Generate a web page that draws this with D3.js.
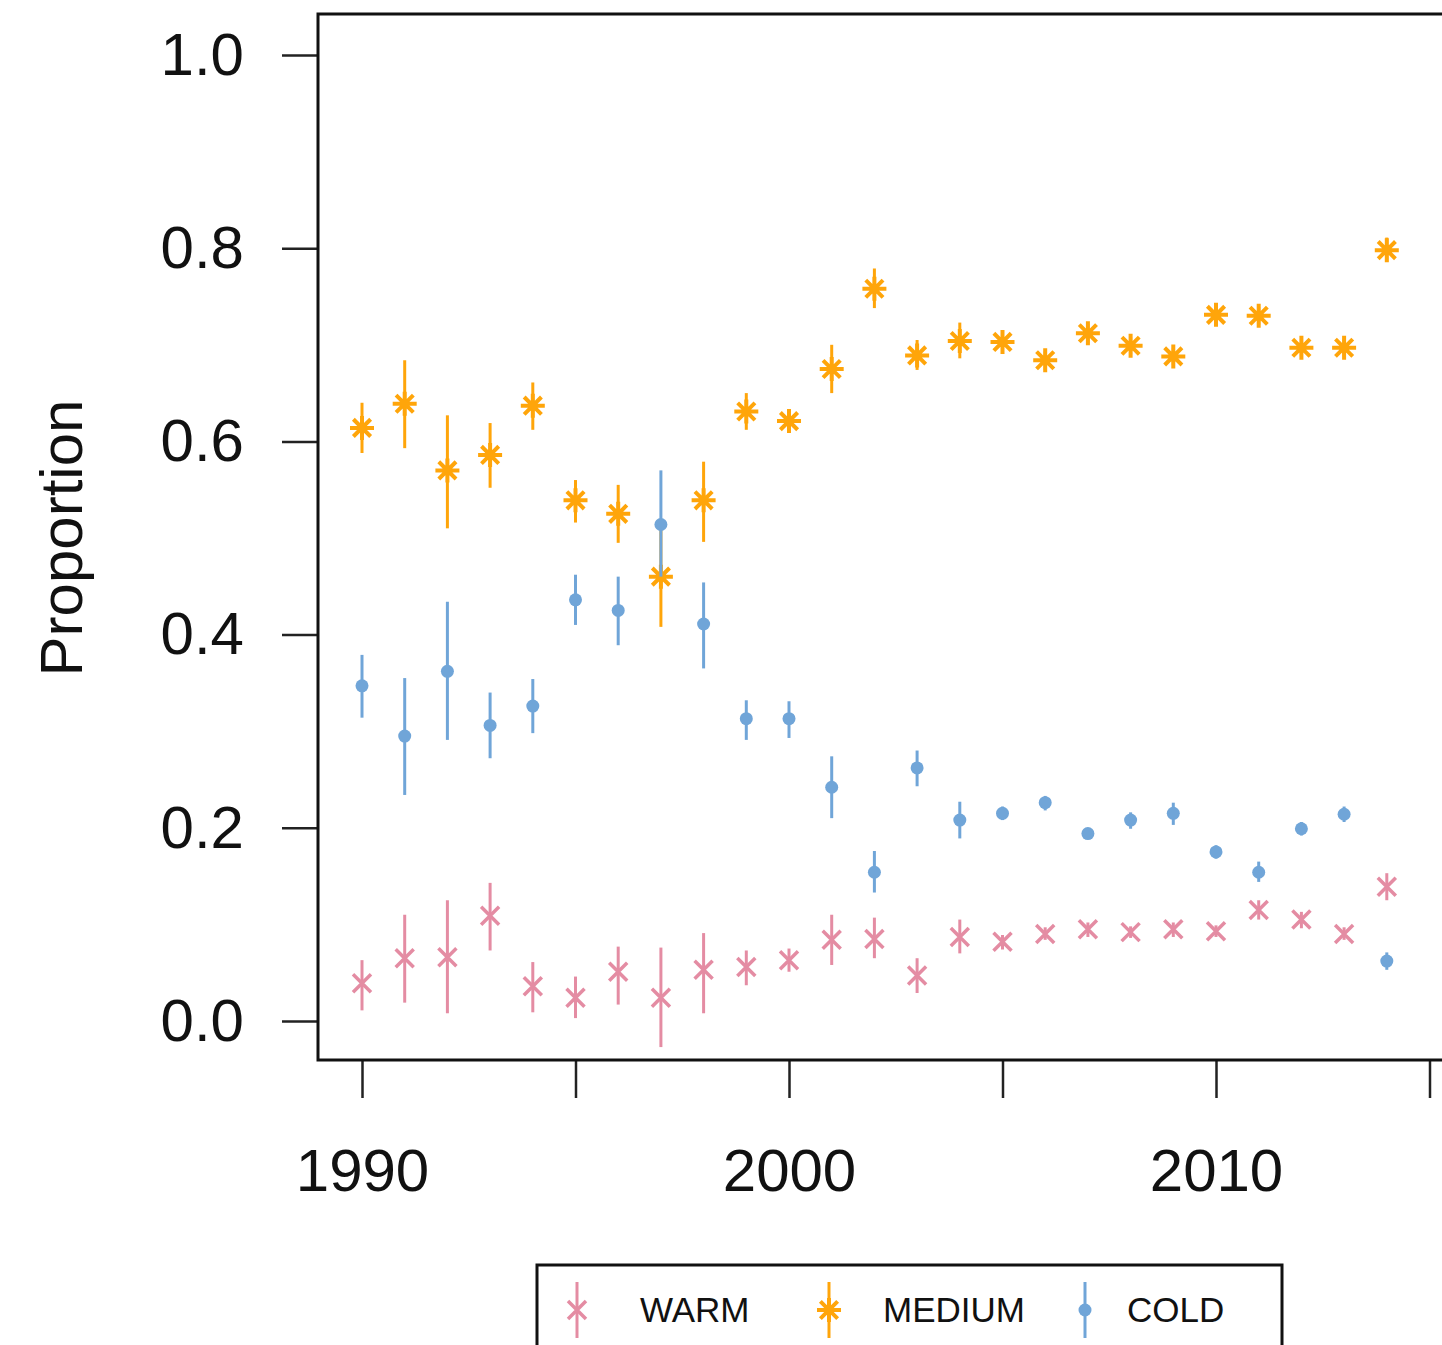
<!DOCTYPE html>
<html>
<head>
<meta charset="utf-8">
<script src="https://cdn.jsdelivr.net/npm/d3@7"></script>
<style>
  body { margin: 0; background: #fff; }
  text { font-family: "Liberation Sans", Arial, sans-serif; fill: #111; }
</style>
</head>
<body>
<div id="chart"></div>
<script>
const years = d3.range(1990, 2015);

// WARM
const warmMid = [0.039, 0.065, 0.066, 0.109, 0.036, 0.024, 0.051, 0.024, 0.053, 0.056, 0.063, 0.084, 0.085, 0.047, 0.087, 0.082, 0.090, 0.095, 0.092, 0.095, 0.093, 0.115, 0.105, 0.090, 0.139];
const warmLo  = [0.011, 0.019, 0.008, 0.073, 0.009, 0.003, 0.017, -0.027, 0.008, 0.037, 0.051, 0.058, 0.065, 0.029, 0.070, 0.074, 0.084, 0.087, 0.086, 0.087, 0.087, 0.105, 0.096, 0.084, 0.125];
const warmHi  = [0.063, 0.110, 0.125, 0.143, 0.061, 0.046, 0.077, 0.076, 0.091, 0.073, 0.075, 0.110, 0.107, 0.065, 0.105, 0.089, 0.097, 0.102, 0.098, 0.102, 0.099, 0.125, 0.113, 0.097, 0.153];

// MEDIUM
const medMid = [0.614, 0.639, 0.570, 0.586, 0.637, 0.539, 0.525, 0.460, 0.539, 0.631, 0.621, 0.675, 0.758, 0.689, 0.704, 0.703, 0.684, 0.712, 0.699, 0.688, 0.731, 0.730, 0.697, 0.697, 0.798];
const medLo  = [0.588, 0.593, 0.510, 0.552, 0.612, 0.516, 0.495, 0.408, 0.496, 0.612, 0.610, 0.650, 0.738, 0.674, 0.686, 0.695, 0.674, 0.701, 0.690, 0.679, 0.721, 0.721, 0.688, 0.688, 0.786];
const medHi  = [0.640, 0.684, 0.627, 0.619, 0.661, 0.560, 0.555, 0.512, 0.579, 0.650, 0.632, 0.700, 0.779, 0.705, 0.723, 0.712, 0.693, 0.722, 0.708, 0.697, 0.740, 0.739, 0.706, 0.706, 0.811];

// COLD
const coldMid = [0.347, 0.295, 0.362, 0.306, 0.326, 0.436, 0.425, 0.514, 0.411, 0.313, 0.313, 0.242, 0.154, 0.262, 0.208, 0.215, 0.226, 0.194, 0.208, 0.215, 0.175, 0.154, 0.199, 0.214, 0.062];
const coldLo  = [0.314, 0.234, 0.291, 0.272, 0.298, 0.410, 0.389, 0.460, 0.365, 0.291, 0.293, 0.210, 0.133, 0.243, 0.189, 0.208, 0.218, 0.189, 0.199, 0.203, 0.168, 0.144, 0.192, 0.206, 0.053];
const coldHi  = [0.379, 0.355, 0.434, 0.340, 0.354, 0.462, 0.460, 0.570, 0.454, 0.332, 0.331, 0.274, 0.176, 0.280, 0.227, 0.222, 0.233, 0.198, 0.216, 0.226, 0.182, 0.165, 0.206, 0.222, 0.071];

const yTicks = [0, 0.2, 0.4, 0.6, 0.8, 1.0];
const xTicks = [1990, 1995, 2000, 2005, 2010, 2015];
const xLabels = [1990, 2000, 2010];
const seriesNames = ['WARM', 'MEDIUM', 'COLD'];
const colors = { WARM: '#e48ca3', MEDIUM: '#ffa50a', COLD: '#70a5d8' };

const width = 1442;
const height = 1345;

const svg = d3.select('#chart')
  .append('svg')
  .attr('width', width)
  .attr('height', height);

const x = d3.scaleLinear()
  .domain([1990, 2010])
  .range([362, 1216]);

const y = d3.scaleLinear()
  .domain([0, 1])
  .range([1021, 55]);

const box = { left: 318, top: 14, right: 1460, bottom: 1060 };

// y axis
const yAxis = svg.append('g')
  .attr('transform', `translate(${box.left},0)`)
  .call(d3.axisLeft(y).tickValues(yTicks).tickFormat(d3.format('.1f')).tickSize(36).tickPadding(38));
yAxis.select('.domain').remove();
yAxis.selectAll('line').attr('stroke', '#222').attr('stroke-width', 2.5);
yAxis.selectAll('text').attr('font-size', 60).attr('font-family', '"Liberation Sans", Arial, sans-serif').attr('fill', '#111');

// x axis
const xAxis = svg.append('g')
  .attr('transform', `translate(0,${box.bottom})`)
  .call(d3.axisBottom(x).tickValues(xTicks).tickFormat(d => xLabels.includes(d) ? d : '').tickSize(38).tickPadding(50));
xAxis.select('.domain').remove();
xAxis.selectAll('line').attr('stroke', '#222').attr('stroke-width', 2.5);
xAxis.selectAll('text').attr('font-size', 60).attr('font-family', '"Liberation Sans", Arial, sans-serif').attr('fill', '#111');

// plot box
svg.append('rect')
  .attr('x', box.left)
  .attr('y', box.top)
  .attr('width', box.right - box.left)
  .attr('height', box.bottom - box.top)
  .attr('fill', 'none')
  .attr('stroke', '#111')
  .attr('stroke-width', 3);

svg.append('text')
  .attr('text-anchor', 'middle')
  .attr('font-size', 60)
  .attr('transform', 'translate(82,538) rotate(-90)')
  .text('Proportion');

// marker shapes
function drawCross(g, cx, cy, r, color) {
  g.append('path')
    .attr('d', `M${cx - r},${cy - r}L${cx + r},${cy + r}M${cx - r},${cy + r}L${cx + r},${cy - r}`)
    .attr('stroke', color).attr('stroke-width', 3.5).attr('fill', 'none');
}
function drawStar(g, cx, cy, r, color) {
  const d = r * 0.72;
  g.append('path')
    .attr('d', `M${cx - r},${cy}L${cx + r},${cy}M${cx},${cy - r}L${cx},${cy + r}` +
      `M${cx - d},${cy - d}L${cx + d},${cy + d}M${cx - d},${cy + d}L${cx + d},${cy - d}`)
    .attr('stroke', color).attr('stroke-width', 4).attr('fill', 'none');
}
function drawDot(g, cx, cy, r, color) {
  g.append('circle').attr('cx', cx).attr('cy', cy).attr('r', r).attr('fill', color);
}

const series = [
  { name: 'WARM', mid: warmMid, lo: warmLo, hi: warmHi, draw: (g, cx, cy) => drawCross(g, cx, cy, 9, colors.WARM) },
  { name: 'MEDIUM', mid: medMid, lo: medLo, hi: medHi, draw: (g, cx, cy) => drawStar(g, cx, cy, 12, colors.MEDIUM) },
  { name: 'COLD', mid: coldMid, lo: coldLo, hi: coldHi, draw: (g, cx, cy) => drawDot(g, cx, cy, 6.5, colors.COLD) },
];

series.forEach(s => {
  const g = svg.append('g');
  g.selectAll('line')
    .data(years)
    .join('line')
      .attr('x1', d => x(d))
      .attr('x2', d => x(d))
      .attr('y1', (d, i) => y(s.lo[i]))
      .attr('y2', (d, i) => y(s.hi[i]))
      .attr('stroke', colors[s.name])
      .attr('stroke-width', 3);
  years.forEach((yr, i) => s.draw(g, x(yr), y(s.mid[i])));
});

// legend
const legend = svg.append('g');
legend.append('rect')
  .attr('x', 537)
  .attr('y', 1265)
  .attr('width', 745)
  .attr('height', 120)
  .attr('fill', '#fff')
  .attr('stroke', '#111')
  .attr('stroke-width', 3);

const legendX = [577, 829, 1085];
const legendTextX = [640, 883, 1127];
series.forEach((s, i) => {
  const cx = legendX[i];
  const cy = 1310;
  legend.append('line')
    .attr('x1', cx).attr('x2', cx)
    .attr('y1', cy - 28).attr('y2', cy + 28)
    .attr('stroke', colors[s.name]).attr('stroke-width', 3);
  s.draw(legend, cx, cy);
  legend.append('text')
    .attr('x', legendTextX[i])
    .attr('y', cy + 12)
    .attr('font-size', 35)
    .text(seriesNames[i]);
});
</script>
</body>
</html>
